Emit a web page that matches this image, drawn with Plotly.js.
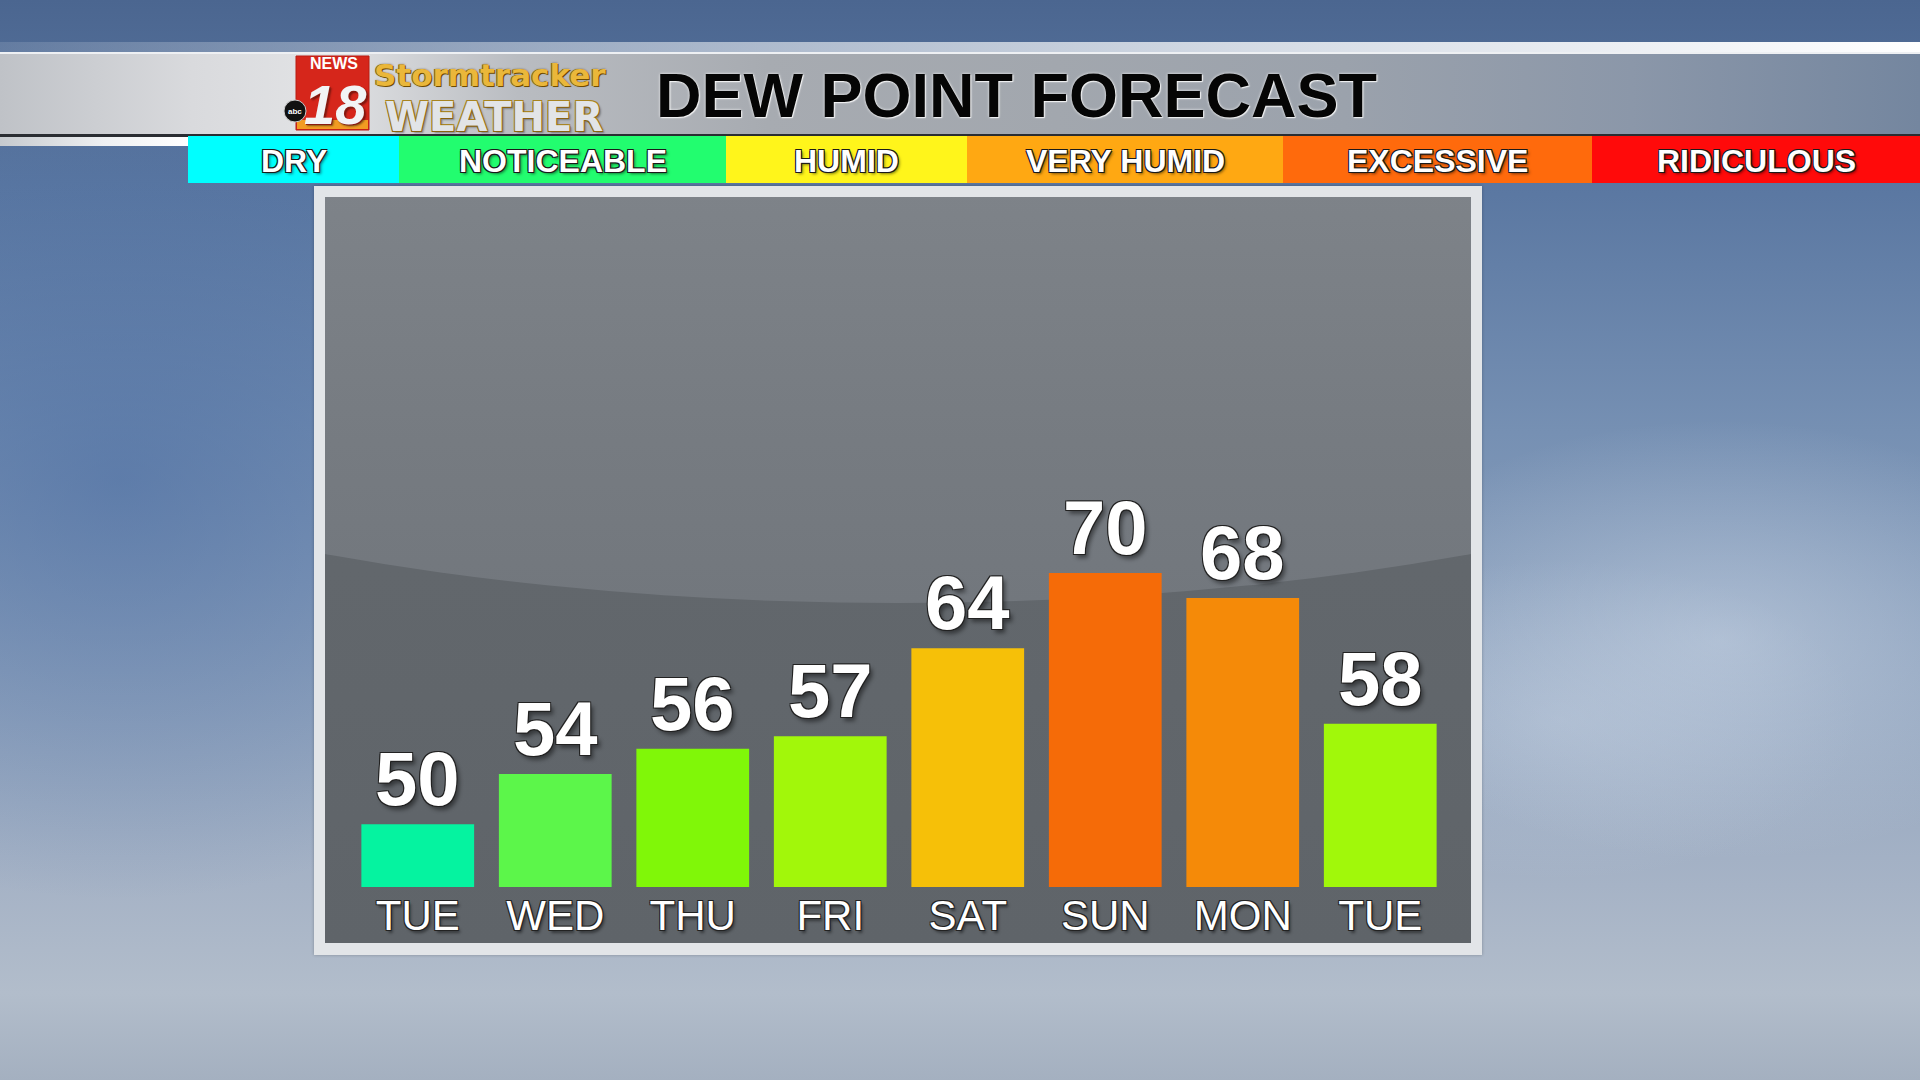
<!DOCTYPE html>
<html>
<head>
<meta charset="utf-8">
<script src="https://cdn.plot.ly/plotly-3.0.1.min.js"></script>
<style>
  html, body { margin:0; padding:0; width:1920px; height:1080px; overflow:hidden; }
  body {
    background:
      radial-gradient(ellipse 520px 420px at 120px 480px, rgba(70,105,160,0.55), rgba(70,105,160,0) 100%),
      radial-gradient(ellipse 380px 220px at 1720px 640px, rgba(215,225,238,0.45), rgba(215,225,238,0) 100%),
      radial-gradient(ellipse 300px 160px at 1560px 720px, rgba(200,212,228,0.35), rgba(200,212,228,0) 100%),
      linear-gradient(180deg, #4b6690 0%, #5b78a2 18%, #7690b3 40%, #8fa3be 62%, #a6b3c6 82%, #b2bdcb 92%, #a4b0c0 100%);
  }
  .abs { position:absolute; }
  #topstrip { left:0; top:42px; width:1920px; height:10px;
    background: linear-gradient(90deg, rgba(220,226,234,0.15) 0%, rgba(225,230,236,0.55) 30%, rgba(235,238,242,0.85) 65%, #ffffff 100%); }
  #header { left:0; top:52px; width:1920px; height:80px;
    border-top:2px solid #eef0f3; border-bottom:3px solid #2a2d32;
    background: linear-gradient(90deg, #bfc2c7 0%, #d9dadd 10%, #e2e3e5 17%, #b9bcc1 27%, #a7abb1 40%, #a2a7ae 55%, #9ba2ac 70%, #8b97a9 85%, #74869f 100%); }
  #leftstrip { left:0; top:137px; width:188px; height:9px;
    background: linear-gradient(90deg, #c6cace 0%, #eef0f2 55%, #ffffff 100%); }
  #panel { left:314px; top:186px; width:1168px; height:769px; background:#e2e5e8;
    box-shadow: 0 0 3px rgba(0,0,0,0.25); }
  #inner { left:325px; top:197px; width:1146px; height:746px; overflow:hidden;
    background: linear-gradient(180deg, #666b70 0%, #62676c 50%, #5f6469 100%); }
  #dome { left:-627px; top:-402px; width:2400px; height:808px; border-radius:50%;
    background: linear-gradient(180deg, #80858b 40%, #7b8086 60%, #767b81 80%, #72777d 100%); }
  #chart { left:0; top:0; width:1920px; height:1080px; }
</style>
</head>
<body>
<div id="topstrip" class="abs"></div>
<div id="header" class="abs"></div>
<div id="leftstrip" class="abs"></div>
<div id="panel" class="abs"></div>
<div id="inner" class="abs"><div id="dome" class="abs"></div></div>
<div id="chart" class="abs"></div>
<script>
// ---- data ----
const days = ['TUE', 'WED', 'THU', 'FRI', 'SAT', 'SUN', 'MON', 'TUE'];
const dewPoints = [50, 54, 56, 57, 64, 70, 68, 58];
const barColors = ['#05f3a0', '#5cf64a', '#80f708', '#a2f70a', '#f6c008', '#f56b08', '#f58a08', '#a1f80a'];
const scaleLabels = ['DRY', 'NOTICEABLE', 'HUMID', 'VERY HUMID', 'EXCESSIVE', 'RIDICULOUS'];
const scaleColors = ['#00ffff', '#22fd6f', '#fff51b', '#ffa812', '#ff6a0c', '#ff0a0a'];
const titleText = 'DEW POINT FORECAST';

// ---- layout geometry (pixels) ----
const FW = 1920, FH = 1080;
const L = 349, R = 1449, T = 196, B = 887;
const PW = R - L, PH = B - T;
const bandEdges = [188, 399, 726, 967, 1283, 1592, 1920];
const bandTop = 136, bandBottom = 183;
const px = x => (x - L) / PW;
const py = y => 1 - (y - T) / PH;

const SANS = 'Liberation Sans, Arial, Helvetica, sans-serif';
const WIDE = 'DejaVu Sans, Verdana, sans-serif';
const outline = c => `-1px -1px 0 ${c}, 1px -1px 0 ${c}, -1px 1px 0 ${c}, 1px 1px 0 ${c}`;

const xs = days.map((d, i) => i);

const shapes = [];
const annotations = [];

// humidity scale band
scaleLabels.forEach((lab, i) => {
  shapes.push({ type: 'rect', xref: 'paper', yref: 'paper', layer: 'above',
    x0: px(bandEdges[i]), x1: px(bandEdges[i + 1]), y0: py(bandBottom), y1: py(bandTop),
    fillcolor: scaleColors[i], line: { width: 0 } });
  annotations.push({ xref: 'paper', yref: 'paper', x: px((bandEdges[i] + bandEdges[i + 1]) / 2),
    y: py((bandTop + bandBottom) / 2 + 1), xanchor: 'center', yanchor: 'middle', showarrow: false,
    text: lab, font: { family: SANS, size: 32, weight: 'bold', color: '#ffffff',
      shadow: outline('#1a1a1a') + ', 2px 2px 3px rgba(0,0,0,0.5)' } });
});

// logo
shapes.push({ type: 'rect', xref: 'paper', yref: 'paper', layer: 'above',
  x0: px(296), x1: px(369), y0: py(130), y1: py(56), fillcolor: '#d6261b', line: { color: '#b81d12', width: 1 } });
shapes.push({ type: 'rect', xref: 'paper', yref: 'paper', layer: 'above',
  x0: px(297), x1: px(368), y0: py(129), y1: py(120), fillcolor: '#f29b22', line: { width: 0 } });
annotations.push({ xref: 'paper', yref: 'paper', x: px(334), y: py(53.5), xanchor: 'center', yanchor: 'top',
  borderpad: 0, showarrow: false, text: 'NEWS',
  font: { family: SANS, size: 16, weight: 'bold', color: '#ffffff' } });
annotations.push({ xref: 'paper', yref: 'paper', x: px(335), y: py(71.8), xanchor: 'center', yanchor: 'top',
  borderpad: 0, showarrow: false, text: '18',
  font: { family: SANS, size: 56, weight: 'bold', style: 'italic', color: '#f2f3f5',
    shadow: '1px 1px 0 #8a1a10, 2px 2px 2px rgba(0,0,0,0.45)' } });
shapes.push({ type: 'circle', xref: 'paper', yref: 'paper', layer: 'above',
  x0: px(284), x1: px(306), y0: py(122), y1: py(100), fillcolor: '#111111', line: { color: '#cccccc', width: 1 } });
annotations.push({ xref: 'paper', yref: 'paper', x: px(295), y: py(111), xanchor: 'center', yanchor: 'middle',
  borderpad: 0, showarrow: false, text: 'abc', font: { family: SANS, size: 8, weight: 'bold', color: '#ffffff' } });
annotations.push({ xref: 'paper', yref: 'paper', x: px(373), y: py(56), xanchor: 'left', yanchor: 'top',
  borderpad: 0, showarrow: false, text: 'Stormtracker',
  font: { family: WIDE, size: 31, weight: 'bold', color: '#eab73a',
    shadow: '1px 1px 0 #6e4c00, -1px 0 0 #8a6310, 0 0 2px rgba(60,40,0,0.6)' } });
annotations.push({ xref: 'paper', yref: 'paper', x: px(384), y: py(92.8), xanchor: 'left', yanchor: 'top',
  borderpad: 0, showarrow: false, text: 'WEATHER',
  font: { family: WIDE, size: 40, weight: 'bold', color: '#e2e4e7',
    shadow: '1px 1px 0 #8a6310, -1px -1px 0 #a88420, 1px -1px 0 #a88420, -1px 1px 0 #8a6310, 2px 2px 2px rgba(0,0,0,0.35)' } });

// value labels
xs.forEach((x, i) => {
  annotations.push({ x: x, y: dewPoints[i], xref: 'x', yref: 'y', xanchor: 'center', yanchor: 'bottom',
    yshift: 1, showarrow: false, text: String(dewPoints[i]),
    font: { family: SANS, size: 76, weight: 'bold', color: '#ffffff',
      shadow: outline('#222222') + ', 3px 4px 4px rgba(0,0,0,0.45)' } });
});

const trace = {
  type: 'bar', x: xs, y: dewPoints,
  marker: { color: barColors, line: { width: 0 } },
  hoverinfo: 'skip'
};

const layout = {
  width: FW, height: FH,
  margin: { l: L, r: FW - R, t: T, b: FH - B, pad: 0 },
  paper_bgcolor: 'rgba(0,0,0,0)', plot_bgcolor: 'rgba(0,0,0,0)',
  showlegend: false, bargap: 0.18,
  title: { text: titleText, xref: 'container', yref: 'container', x: 656 / FW, y: 1 - 95 / FH,
    xanchor: 'left', yanchor: 'middle',
    font: { family: SANS, size: 63, weight: 'bold', color: '#050505',
      shadow: '0 0 3px rgba(255,255,255,0.9), 1px 1px 1px rgba(255,255,255,0.8)' } },
  xaxis: { range: [-0.5, xs.length - 0.5], tickvals: xs, ticktext: days, showgrid: false, zeroline: false,
    showline: false, ticks: '', fixedrange: true,
    tickfont: { family: SANS, size: 42, color: '#ffffff',
      shadow: outline('#222222') + ', 2px 3px 3px rgba(0,0,0,0.45)' } },
  yaxis: { range: [45, 100], visible: false, showgrid: false, zeroline: false, fixedrange: true },
  shapes: shapes,
  annotations: annotations
};

Plotly.newPlot('chart', [trace], layout, { displayModeBar: false, staticPlot: true });
</script>
</body>
</html>
